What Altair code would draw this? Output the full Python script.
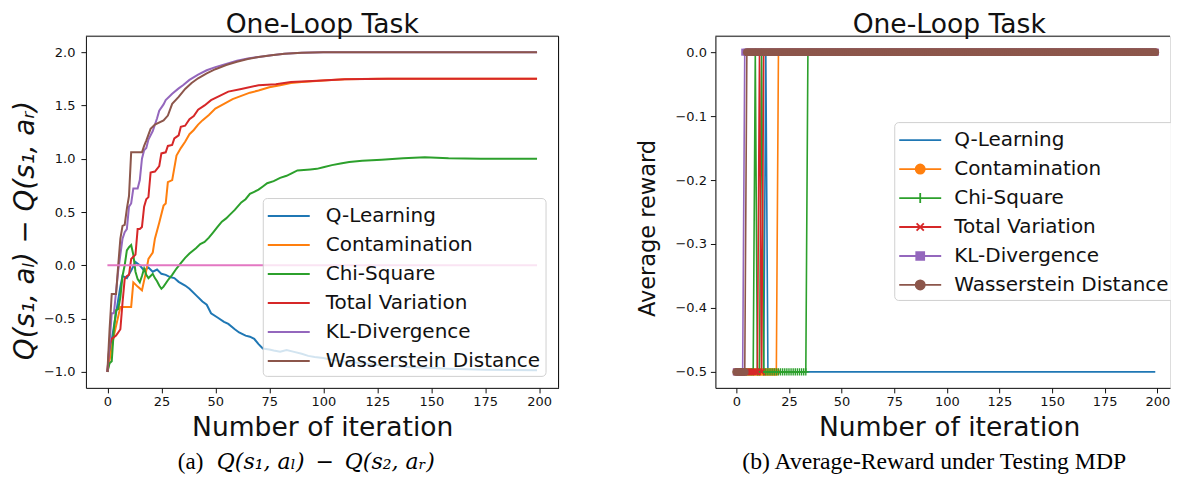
import altair as alt
import pandas as pd

FONT = "DejaVu Sans"
SERIF = "Liberation Serif"
INK = "#111111"

SERIES = ["Q-Learning", "Contamination", "Chi-Square", "Total Variation",
          "KL-Divergence", "Wasserstein Distance"]
COLORS = ["#1f77b4", "#ff7f0e", "#2ca02c", "#d62728", "#9467bd", "#8c564b"]
ZERO_COLOR = "#e377c2"

ITER_TICKS = [0, 25, 50, 75, 100, 125, 150, 175, 200]
LEFT_Y_TICKS = [-1.0, -0.5, 0.0, 0.5, 1.0, 1.5, 2.0]
RIGHT_Y_TICKS = [-0.5, -0.4, -0.3, -0.2, -0.1, 0.0]

# ---------- panel (a): Q(s1,al) - Q(s1,ar) ----------
QL_X = [0, 2, 4, 6, 7, 9, 11, 13, 15, 17, 19, 21, 23, 25, 27, 29, 31, 33, 36, 38, 41, 44, 46, 48,
        51, 54, 56, 59, 61, 64, 66, 68, 70, 72, 75, 77, 80, 83, 86, 90, 93, 96, 100, 105, 111,
        118, 127, 140, 158, 175, 199]
QL_Y = [-1.0, -0.7, -0.45, -0.2, -0.1, -0.12, -0.05, 0.03, 0.0, -0.05, -0.02, -0.06, -0.04, -0.08,
        -0.09, -0.11, -0.12, -0.155, -0.19, -0.22, -0.28, -0.34, -0.37, -0.45, -0.49, -0.53, -0.55,
        -0.6, -0.63, -0.66, -0.67, -0.69, -0.74, -0.78, -0.79, -0.8, -0.81, -0.795, -0.81, -0.83,
        -0.85, -0.86, -0.87, -0.89, -0.905, -0.92, -0.94, -0.955, -0.97, -0.98, -0.985]

CON_X = [0, 3, 6, 11, 12, 14, 16, 18, 19, 21, 22, 24, 26, 27, 28, 30, 32, 34, 36, 38, 40, 42, 44,
         47, 50, 54, 58, 62, 66, 70, 75, 80, 85, 90, 100, 110, 125, 199]
CON_Y = [-1.0, -0.66, -0.39, -0.39, -0.16, -0.2, -0.235, -0.05, 0.06, 0.12, 0.25, 0.4, 0.56, 0.58,
         0.78, 0.8, 1.03, 1.1, 1.16, 1.23, 1.27, 1.32, 1.36, 1.41, 1.47, 1.515, 1.56, 1.59, 1.62,
         1.64, 1.67, 1.69, 1.71, 1.72, 1.735, 1.745, 1.75, 1.75]

CHI_X = [0, 1, 2, 3, 4, 5, 6, 7, 8, 9, 10, 11, 12, 13, 14, 15, 16, 17, 18, 19, 20, 21, 22, 23, 24,
         25, 26, 28, 30, 32, 34, 36, 38, 41, 43, 45, 47, 49, 51, 53, 55, 57, 59, 62, 64, 66, 68,
         70, 72, 74, 77, 80, 83, 86, 88, 91, 94, 97, 100, 104, 108, 112, 118, 127, 137, 147, 158,
         173, 199]
CHI_Y = [-1.0, -0.92, -0.9, -0.6, -0.42, -0.41, -0.3, -0.1, 0.0, 0.14, 0.17, 0.19, 0.1, -0.06,
         -0.13, -0.16, -0.1, -0.03, -0.09, -0.12, -0.1, -0.08, -0.12, -0.15, -0.19, -0.22, -0.2,
         -0.14, -0.09, -0.03, 0.02, 0.07, 0.11, 0.16, 0.2, 0.22, 0.26, 0.31, 0.36, 0.41, 0.44,
         0.48, 0.52, 0.59, 0.62, 0.67, 0.69, 0.71, 0.74, 0.77, 0.79, 0.82, 0.84, 0.87, 0.89,
         0.895, 0.9, 0.905, 0.92, 0.94, 0.955, 0.97, 0.98, 0.99, 1.005, 1.015, 1.005, 1.0, 1.0]

TV_X = [0, 1, 2, 4, 5, 6, 7, 8, 9, 10, 11, 12, 13, 14, 15, 16, 17, 18, 19, 20, 21, 22, 24, 25,
        27, 28, 30, 31, 33, 34, 36, 38, 40, 42, 45, 48, 52, 56, 62, 70, 78, 85, 95, 110, 130, 199]
TV_Y = [-1.0, -0.75, -0.69, -0.66, -0.63, -0.6, -0.35, -0.13, -0.1, -0.09, 0.06, 0.08, 0.1, 0.34,
        0.34, 0.36, 0.55, 0.62, 0.64, 0.87, 0.875, 0.88, 0.93, 1.05, 1.06, 1.12, 1.13, 1.19,
        1.22, 1.3, 1.31, 1.37, 1.4, 1.46, 1.5, 1.55, 1.59, 1.63, 1.655, 1.69, 1.7, 1.72, 1.73,
        1.745, 1.75, 1.75]

KL_X = [0, 2, 3, 5, 7, 8, 9, 10, 11, 12, 14, 15, 16, 17, 18, 19, 21, 23, 24, 26, 27, 30, 33, 35,
        38, 42, 46, 50, 55, 60, 65, 70, 76, 82, 90, 100, 199]
KL_Y = [-1.0, -0.45, -0.45, -0.05, 0.25, 0.31, 0.34, 0.55, 0.58, 0.72, 0.72, 0.8, 1.0, 1.08, 1.1,
        1.18, 1.26, 1.38, 1.45, 1.51, 1.55, 1.61, 1.66, 1.69, 1.74, 1.79, 1.83, 1.86, 1.89,
        1.92, 1.94, 1.955, 1.97, 1.985, 1.995, 2.0, 2.0]

WD_X = [0, 1, 2, 4, 5, 6, 7, 8, 9, 10, 11, 16, 17, 18, 20, 22, 26, 28, 30, 33, 36, 39, 42, 46, 50,
        55, 60, 65, 70, 76, 82, 90, 100, 199]
WD_Y = [-1.0, -0.6, -0.27, -0.27, 0.0, 0.25, 0.37, 0.38, 0.53, 0.65, 1.06, 1.06, 1.12, 1.17,
        1.28, 1.32, 1.36, 1.405, 1.515, 1.58, 1.655, 1.71, 1.755, 1.8, 1.84, 1.88, 1.91,
        1.935, 1.955, 1.97, 1.985, 1.995, 2.0, 2.0]

ZERO_X = [0, 199]
ZERO_Y = [0.0, 0.0]

LEFT_X = [QL_X, CON_X, CHI_X, TV_X, KL_X, WD_X]
LEFT_Y = [QL_Y, CON_Y, CHI_Y, TV_Y, KL_Y, WD_Y]

# ---------- panel (b): average reward, as runs of (value, number of iterations) ----------
QL_RUNS = [(-0.5, 14), (0.0, 1), (-0.5, 185)]
CON_RUNS = [(-0.5, 20), (0.0, 180)]
CHI_RUNS = [(-0.5, 9), (0.0, 1), (-0.5, 2), (0.0, 1), (-0.5, 21), (0.0, 166)]
TV_RUNS = [(-0.5, 11), (0.0, 1), (-0.5, 1), (0.0, 187)]
KL_RUNS = [(-0.5, 4), (0.0, 196)]
WD_RUNS = [(-0.5, 5), (0.0, 195)]
RIGHT_RUNS = [QL_RUNS, CON_RUNS, CHI_RUNS, TV_RUNS, KL_RUNS, WD_RUNS]

CAPTION_A_TAG = "(a)"
CAPTION_A_MATH = "Q(s\u2081, a\u2097)\u2002\u2212\u2002Q(s\u2082, a\u1d63)"
CAPTION_B = "(b)  Average-Reward under Testing MDP"
LEFT_YTITLE = "Q(s\u2081, a\u2097) \u2212 Q(s\u2081, a\u1d63)"
PANEL_TITLE = "One-Loop Task"

# ---------- tables ----------
left_rows = []
for name, xs, ys in zip(SERIES, LEFT_X, LEFT_Y):
    for x, y in zip(xs, ys):
        left_rows.append({"series": name, "iter": x, "value": y})
left_df = pd.DataFrame(left_rows)
zero_df = pd.DataFrame({"iter": ZERO_X, "value": ZERO_Y})

right_rows = []
for name, runs in zip(SERIES, RIGHT_RUNS):
    i = 0
    for v, n in runs:
        for _ in range(n):
            right_rows.append({"series": name, "iter": i, "value": v})
            i += 1
right_df = pd.DataFrame(right_rows)

one = pd.DataFrame({"k": [0]})

# ---------- geometry ----------
W1, W2, H = 473, 455, 352
TITLE_SIZE = 26.6

axis_common = dict(grid=False, tickSize=5, tickColor=INK, domainColor=INK, labelColor=INK,
                   titleColor=INK, labelFont=FONT, titleFont=FONT, labelFontSize=13,
                   titleFontWeight="normal", labelFlush=False, labelOverlap=False)

x_left = alt.X("iter:Q", scale=alt.Scale(domain=[-9.95, 208.95], nice=False, zero=False),
               axis=alt.Axis(values=ITER_TICKS, title="Number of iteration",
                             titleFontSize=TITLE_SIZE, labelPadding=3, titlePadding=6,
                             **axis_common))
y_left = alt.Y("value:Q", scale=alt.Scale(domain=[-1.15, 2.15], nice=False, zero=False),
               axis=alt.Axis(values=LEFT_Y_TICKS, format=".1f", title=LEFT_YTITLE,
                             titleFontSize=27.7, titleFontStyle="italic", labelPadding=6,
                             titlePadding=4, titleY=194, **axis_common))

color_scale = alt.Scale(domain=SERIES, range=COLORS)
legend_common = dict(title=None, orient="none", symbolSize=576, symbolOffset=8,
                     labelFont=FONT, labelFontSize=20, labelLimit=400,
                     labelColor=INK, padding=5, rowPadding=6,
                     fillColor="rgba(255,255,255,0.8)", strokeColor="#d0d0d0",
                     cornerRadius=4)
left_legend = alt.Legend(legendX=177, legendY=162, labelOffset=24,
                         symbolType="M-1.75,0L1.75,0", symbolStrokeWidth=2,
                         **legend_common)

left_layers = []
for name in SERIES:
    left_layers.append(
        alt.Chart(left_df).transform_filter(alt.datum.series == name)
        .mark_line(strokeWidth=2)
        .encode(x=x_left, y=y_left,
                color=alt.Color("series:N", scale=color_scale, legend=left_legend))
    )
left_layers.append(alt.Chart(zero_df).mark_line(strokeWidth=2, color=ZERO_COLOR)
                   .encode(x=x_left, y=y_left))
left_layers.append(alt.Chart(one).mark_rule(color=INK, strokeWidth=1)
                   .encode(x=alt.value(0), x2=alt.value(W1), y=alt.value(0)))
left_layers.append(alt.Chart(one).mark_rule(color=INK, strokeWidth=1)
                   .encode(x=alt.value(W1), y=alt.value(0), y2=alt.value(H)))
left_layers.append(alt.Chart(pd.DataFrame({"t": [CAPTION_A_TAG]}))
                   .mark_text(font=SERIF, fontSize=23, align="left", baseline="alphabetic",
                              color="black")
                   .encode(x=alt.value(92), y=alt.value(433), text="t:N"))
left_layers.append(alt.Chart(pd.DataFrame({"t": [CAPTION_A_MATH]}))
                   .mark_text(font="DejaVu Serif", fontSize=22, fontStyle="italic",
                              align="left", baseline="alphabetic", color="black")
                   .encode(x=alt.value(131), y=alt.value(433), text="t:N"))

left = alt.layer(*left_layers).properties(
    width=W1, height=H,
    title=alt.TitleParams(PANEL_TITLE, font=FONT, fontSize=TITLE_SIZE, fontWeight="normal",
                          color=INK, offset=-3, anchor="middle"))

# ---------- right panel ----------
x_right = alt.X("iter:Q", scale=alt.Scale(domain=[-9.95, 206.0], nice=False, zero=False),
                axis=alt.Axis(values=ITER_TICKS, title="Number of iteration",
                              titleFontSize=TITLE_SIZE, labelPadding=3, titlePadding=6,
                              titleX=234, **axis_common))
y_right = alt.Y("value:Q", scale=alt.Scale(domain=[-0.525, 0.025], nice=False, zero=False),
                axis=alt.Axis(values=RIGHT_Y_TICKS, format=".1f", title="Average reward",
                              titleFontSize=22.5, labelPadding=4, titlePadding=15, titleY=192,
                              **axis_common))

MARKERS = [None,
           dict(shape="circle", filled=True, size=55),
           dict(shape="M-1,0L1,0M0,-1L0,1", filled=False, size=55, strokeWidth=1.4),
           dict(shape="M-1,-1L1,1M-1,1L1,-1", filled=False, size=40, strokeWidth=1.4),
           dict(shape="square", filled=True, size=50),
           dict(shape="circle", filled=True, size=60)]

LEGEND_PATHS = [
    "M-1.75,0L1.75,0",
    "M-1.75,0L1.75,0M0.38,0A0.38,0.38,0,1,1,-0.38,0A0.38,0.38,0,1,1,0.38,0Z",
    "M-1.75,0L1.75,0M0,-0.42L0,0.42",
    "M-1.75,0L1.75,0M-0.3,-0.3L0.3,0.3M-0.3,0.3L0.3,-0.3",
    "M-1.75,0L1.75,0M-0.33,-0.33L0.33,-0.33L0.33,0.33L-0.33,0.33Z",
    "M-1.75,0L1.75,0M0.38,0A0.38,0.38,0,1,1,-0.38,0A0.38,0.38,0,1,1,0.38,0Z",
]

right_legend = alt.Legend(legendX=179, legendY=86, labelOffset=21, symbolStrokeWidth=1.8,
                          **legend_common)

right_layers = []
for name, col, mk in zip(SERIES, COLORS, MARKERS):
    base = alt.Chart(right_df).transform_filter(alt.datum.series == name)
    right_layers.append(base.mark_line(strokeWidth=1.6, color=col).encode(x=x_right, y=y_right))
    if mk is not None:
        right_layers.append(base.mark_point(color=col, opacity=1, **mk)
                            .encode(x=x_right, y=y_right))

right_layers.append(
    alt.Chart(pd.DataFrame({"series": SERIES})).transform_filter("false")
    .mark_point(filled=True, opacity=1)
    .encode(shape=alt.Shape("series:N", scale=alt.Scale(domain=SERIES, range=LEGEND_PATHS),
                            legend=right_legend),
            fill=alt.Fill("series:N", scale=alt.Scale(domain=SERIES, range=COLORS),
                          legend=right_legend),
            stroke=alt.Stroke("series:N", scale=alt.Scale(domain=SERIES, range=COLORS),
                              legend=right_legend))
)
right_layers.append(alt.Chart(one).mark_rule(color=INK, strokeWidth=1)
                    .encode(x=alt.value(0), x2=alt.value(W2), y=alt.value(0)))
right_layers.append(alt.Chart(pd.DataFrame({"t": [CAPTION_B]}))
                    .mark_text(font=SERIF, fontSize=23.7, align="left", baseline="alphabetic",
                               color="black")
                    .encode(x=alt.value(27), y=alt.value(433), text="t:N"))

right = alt.layer(*right_layers).properties(
    width=W2, height=H,
    title=alt.TitleParams(PANEL_TITLE, font=FONT, fontSize=TITLE_SIZE, fontWeight="normal",
                          color=INK, offset=-3, anchor="middle", dx=6.5))

chart = (
    alt.hconcat(left, right, spacing=76)
    .resolve_scale(color="independent", fill="independent", stroke="independent",
                   shape="independent")
    .configure_view(stroke=None)
    .configure(padding={"left": 2, "top": 3, "right": -4, "bottom": 0}, background="white")
)

chart.save("out.html", embed_options={"renderer": "svg", "actions": False})
